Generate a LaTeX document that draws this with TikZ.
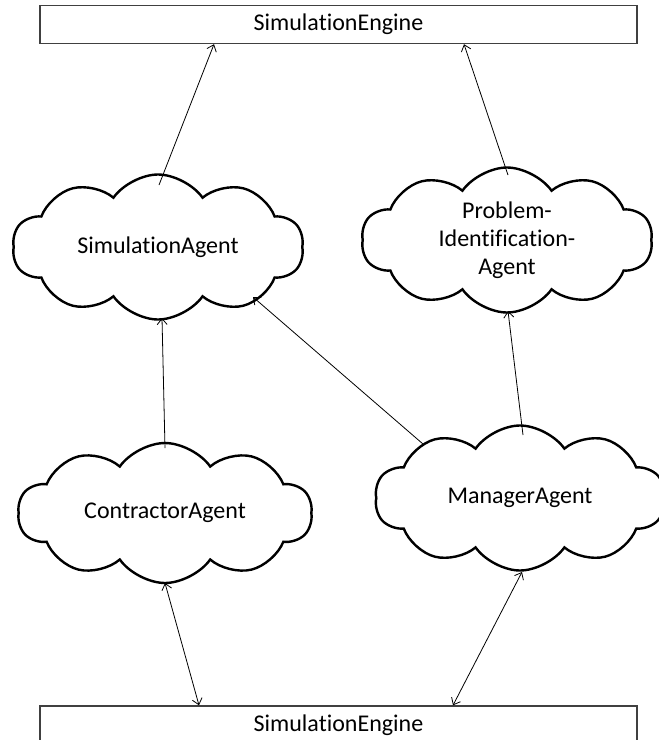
\documentclass[tikz,border=0pt]{standalone}
\usepackage{fontspec}
\setmainfont{Carlito}[Ligatures={NoCommon}]
\usetikzlibrary{shapes.symbols,arrows.meta}
\begin{document}
\begin{tikzpicture}[x=1pt,y=1pt,
		font=\fontsize{24}{28}\selectfont,
		engine/.style={draw=black!75,line width=1.4pt,minimum width=597pt,minimum height=38pt,inner sep=0pt},
		agent/.style={cloud,cloud puffs=10,cloud puff arc=110,cloud ignores aspect,draw,line width=2.4pt,inner sep=0pt,align=center},
		arr/.style={-{Straight Barb[length=6pt,width=10pt]},line width=0.8pt},
		biarr/.style={{Straight Barb[length=6pt,width=10pt]}-{Straight Barb[length=6pt,width=10pt]},line width=0.8pt}]
	\useasboundingbox (0,0) rectangle (659,-740);
	\clip (0,0) rectangle (659,-740);
	
	% engines
	\node [engine] (topEng) at (338.5,-24.5) {SimulationEngine};
	\node [engine] (botEng) at (338.5,-725) {SimulationEngine};
	
	% agents
	\node [agent,minimum width=291pt,minimum height=145pt] (simAgent) at (158,-247) {SimulationAgent};
	\node [agent,minimum width=291pt,minimum height=145pt] (piAgent) at (507,-240) {Problem-\\Identification-\\Agent};
	\node [agent,minimum width=294pt,minimum height=140pt] (conAgent) at (165,-513) {ContractorAgent};
	\node [agent,minimum width=290pt,minimum height=145pt] (manAgent) at (520,-498) {ManagerAgent};
	
	% upwards
	\draw [arr] ([shift={(1,62)}]simAgent.center) -- ([xshift=-124.5pt]topEng.south);
	\draw [arr] ([shift={(1,65)}]piAgent.center) -- ([xshift=125.5pt]topEng.south);
	\draw [arr] ([shift={(0,65)}]conAgent.center) -- ([shift={(4,-71)}]simAgent.center);
	\draw [arr] ([shift={(-97,54)}]manAgent.center) -- ([shift={(95,-50)}]simAgent.center);
	\draw [arr] ([shift={(3,63)}]manAgent.center) -- ([shift={(1,-71)}]piAgent.center);
	
	% both ways
	\draw [biarr] ([shift={(0,-70)}]conAgent.center) -- ([xshift=-139.5pt]botEng.north);
	\draw [biarr] ([shift={(2,-74)}]manAgent.center) -- ([xshift=114.5pt]botEng.north);
\end{tikzpicture}
\end{document}
